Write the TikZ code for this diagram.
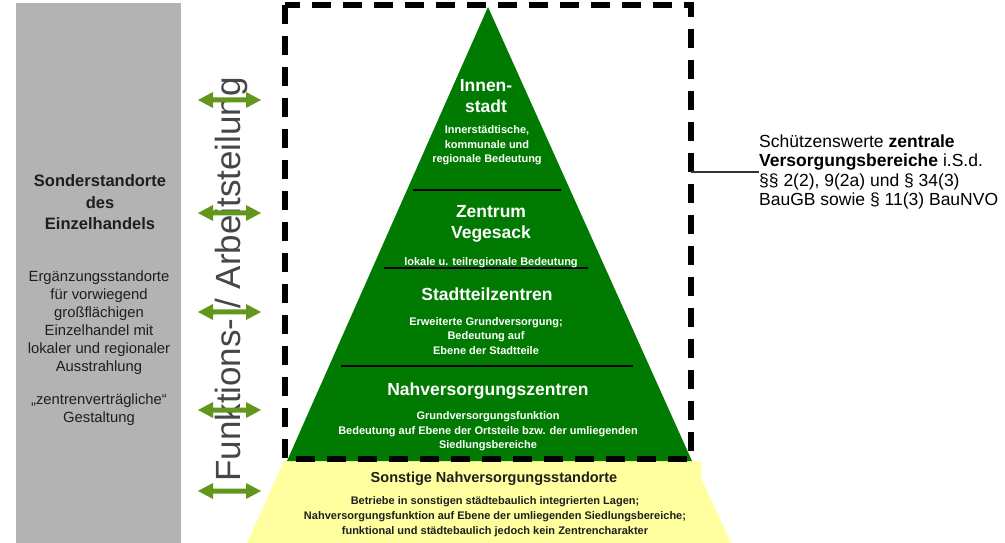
\documentclass[tikz,border=0pt]{standalone}
\usepackage{fontspec}
\setmainfont{Liberation Sans}
\definecolor{pgreen}{RGB}{0,122,0}
\definecolor{agreen}{RGB}{98,150,28}
\definecolor{pyellow}{RGB}{255,255,160}
\definecolor{boxgray}{RGB}{179,179,179}
\definecolor{vtext}{RGB}{70,70,70}
\definecolor{dtext}{RGB}{30,30,30}
\tikzset{
  ttl/.style={font=\bfseries\fontsize{17.5bp}{21bp}\selectfont, text=white, align=center, inner sep=0},
  sub/.style={font=\bfseries\fontsize{11bp}{14.5bp}\selectfont, text=white, align=center, inner sep=0},
  ytitle/.style={font=\bfseries\fontsize{14.5bp}{17bp}\selectfont, text=dtext, align=center, inner sep=0},
  ysub/.style={font=\bfseries\fontsize{11bp}{15bp}\selectfont, text=dtext, align=center, inner sep=0},
  gtitle/.style={font=\bfseries\fontsize{16.5bp}{21.5bp}\selectfont, text=dtext, align=center, inner sep=0},
  gbody/.style={font=\fontsize{14.8bp}{18bp}\selectfont, text=dtext, align=center, inner sep=0},
  rlab/.style={font=\fontsize{17.5bp}{19.5bp}\selectfont, text=black, align=left, inner sep=0},
  divider/.style={black, line width=1.3bp},
  dbox/.style={black, line width=5.5bp, dash pattern=on 19bp off 12bp},
  darr/.style={fill=agreen},
}
\begin{document}
\begin{tikzpicture}[x=1bp,y=-1bp]
\useasboundingbox (0,0) rectangle (1005,543);
% left gray column
\fill[boxgray] (16,3) rectangle (181,543);
\node[gtitle] (sonder) at (100,202.5) {Sonderstandorte\\des\\Einzelhandels};
\node[gbody] (erg) at (99,323) {Ergänzungsstandorte\\für vorwiegend\\großflächigen\\Einzelhandel mit\\lokaler und regionaler\\Ausstrahlung};
\node[gbody] (gest) at (99,410) {„zentrenverträgliche“\\Gestaltung};
% vertical text
\node[font=\fontsize{35bp}{40bp}\selectfont, text=vtext, rotate=90, anchor=base west, inner sep=0] (funk) at (240,482) {Funktions- / Arbeitsteilung};
% double arrows
\foreach \y in {100,213,312,410,491}{
  \fill[darr] (198,\y) -- (213,\y-8) -- (213,\y-2.5) -- (246,\y-2.5) -- (246,\y-8) -- (261,\y)
     -- (246,\y+8) -- (246,\y+2.5) -- (213,\y+2.5) -- (213,\y+8) -- cycle;
}
% yellow base
\fill[pyellow] (284,461) -- (701,461) -- (701,478) -- (731,543) -- (247,543) -- cycle;
% green pyramid
\fill[pgreen] (488,7) -- (692,461) -- (287,461) -- cycle;
\draw[divider] (413,190) -- (561,190);
\draw[divider] (384,268) -- (588,268);
\draw[divider] (341,366) -- (633,366);
% pyramid texts
\node[ttl] (innen) at (486,96.5) {Innen-\\stadt};
\node[sub] (innensub) at (487,145.5) {Innerstädtische,\\kommunale und\\regionale Bedeutung};
\node[ttl] (zent) at (491,224) {Zentrum\\Vegesack};
\node[sub] (zentsub) at (491,262.5) {lokale u. teilregionale Bedeutung};
\node[ttl] (stadtt) at (487,294) {Stadtteilzentren};
\node[sub] (stadttsub) at (486,336) {Erweiterte Grundversorgung;\\Bedeutung auf\\Ebene der Stadtteile};
\node[ttl] (nahv) at (488,391) {Nahversorgungszentren};
\node[sub] (nahvsub) at (488,431.5) {Grundversorgungsfunktion\\Bedeutung auf Ebene der Ortsteile bzw. der umliegenden\\Siedlungsbereiche};
\node[ytitle] (sonst) at (494,479) {Sonstige Nahversorgungsstandorte};
\node[ysub] (sonstsub) at (495,516.5) {Betriebe in sonstigen städtebaulich integrierten Lagen;\\Nahversorgungsfunktion auf Ebene der umliegenden Siedlungsbereiche;\\funktional und städtebaulich jedoch kein Zentrencharakter};
% dashed frame
\draw[dbox] (285,5) rectangle (691,459);
\coordinate (bx) at (691,172);
% right label
\node[rlab, anchor=west] (rlabel) at (759,172) {Schützenswerte \textbf{zentrale}\\\textbf{Versorgungsbereiche} i.S.d.\\§§ 2(2), 9(2a) und § 34(3)\\BauGB sowie § 11(3) BauNVO};
\draw[black!80, line width=1.3bp] (bx) -- (rlabel.west);
\end{tikzpicture}
\end{document}
